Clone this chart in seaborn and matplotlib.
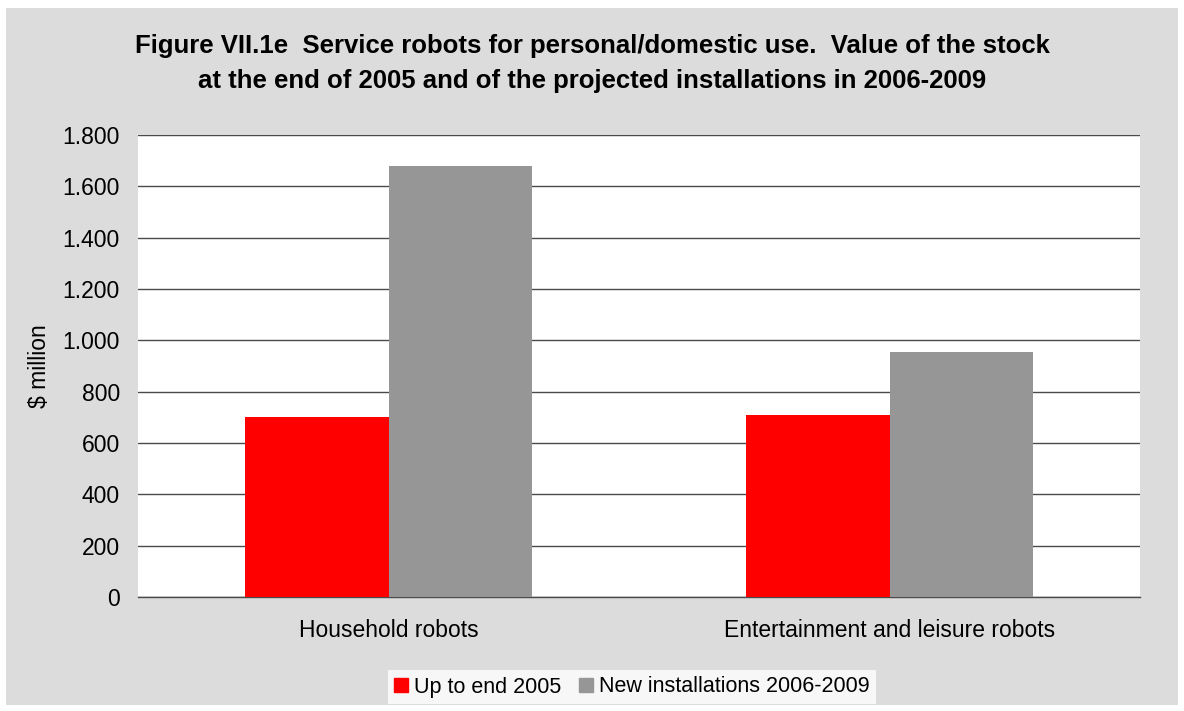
import matplotlib
matplotlib.use("Agg")
import matplotlib.pyplot as plt
import matplotlib.patches as mpatches
from matplotlib.ticker import FuncFormatter
import seaborn as sns
import pandas as pd

categories = ["Household robots", "Entertainment and leisure robots"]
series_names = ["Up to end 2005", "New installations 2006-2009"]
up_to_2005 = [700, 710]
new_2006_2009 = [1680, 955]
yticks = [0, 200, 400, 600, 800, 1000, 1200, 1400, 1600, 1800]

df = pd.DataFrame({
    "category": categories * 2,
    "series": [series_names[0]] * 2 + [series_names[1]] * 2,
    "value": up_to_2005 + new_2006_2009,
})

sns.set_theme(style="white")
plt.rcParams["font.family"] = ["Liberation Sans", "DejaVu Sans"]
plt.rcParams["text.color"] = "black"

W, H = 1184, 711
fig = plt.figure(figsize=(W / 100, H / 100), dpi=100)
fig.patch.set_facecolor("white")
fig.patches.append(mpatches.Rectangle((6 / W, 1 - 705 / H), 1172 / W, 697 / H,
                                      transform=fig.transFigure, facecolor="#DCDCDC",
                                      edgecolor="none", zorder=-10))

ax = fig.add_axes([138 / W, 1 - 597 / H, 1002 / W, 462 / H])
ax.set_facecolor("white")
sns.barplot(data=df, x="category", y="value", hue="series", order=categories,
            hue_order=series_names, palette=["#FF0000", "#969696"], saturation=1,
            width=0.571, gap=0, ax=ax, legend=False, zorder=3, linewidth=0,
            edgecolor="none")

ax.set_ylim(0, 1800)
ax.set_yticks(yticks)
ax.yaxis.set_major_formatter(FuncFormatter(lambda v, p: f"{int(v):,}".replace(",", ".")))
ax.grid(axis="y", color="#4A4A4A", linewidth=1.0, zorder=0)
ax.set_axisbelow(True)
for s in ["left", "right", "top"]:
    ax.spines[s].set_visible(False)
ax.spines["bottom"].set_color("#4A4A4A")
ax.spines["bottom"].set_linewidth(1.0)
ax.tick_params(axis="both", length=0, labelsize=16.5, colors="black")
ax.tick_params(axis="y", pad=13)
ax.tick_params(axis="x", pad=16)
ax.set_xlabel("")
ax.set_ylabel("$ million", fontsize=16.5, labelpad=8, color="black")

fig.text(0.5, 1 - 46 / H, "Figure VII.1e  Service robots for personal/domestic use.  Value of the stock",
         ha="center", va="center", fontsize=18.5, fontweight="bold", color="black")
fig.text(0.5, 1 - 81 / H, "at the end of 2005 and of the projected installations in 2006-2009",
         ha="center", va="center", fontsize=18.5, fontweight="bold", color="black")

handles = [mpatches.Patch(color="#FF0000"), mpatches.Patch(color="#969696")]
leg = fig.legend(handles, series_names, loc="center", bbox_to_anchor=(632 / W, 1 - 687 / H),
                 ncol=2, frameon=True, fontsize=15.5, handlelength=0.65, handleheight=0.65,
                 handletextpad=0.3, columnspacing=0.8, borderpad=0.3, borderaxespad=0,
                 fancybox=False)
leg.get_frame().set_facecolor("white")
leg.get_frame().set_edgecolor("none")
for t in leg.get_texts():
    t.set_color("black")

fig.savefig("out.png", dpi=100)
